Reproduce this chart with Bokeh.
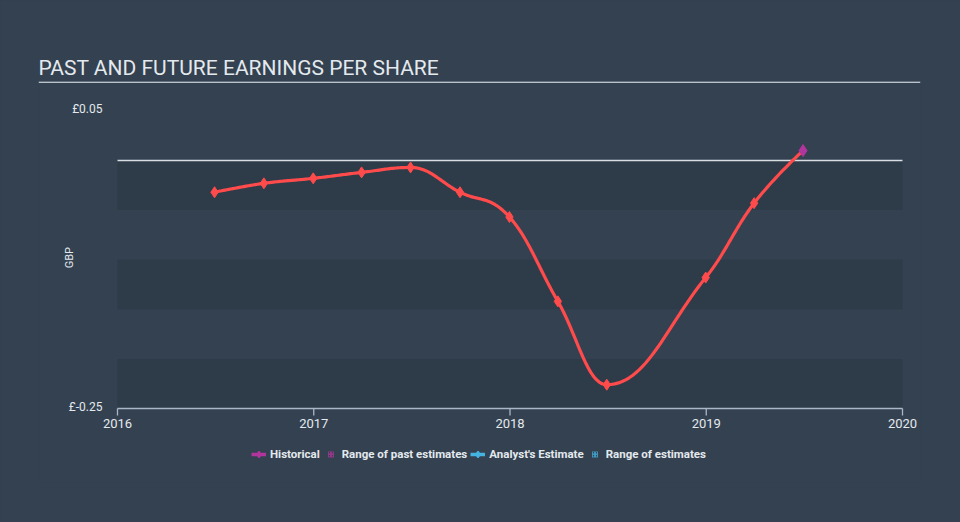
import numpy as np
from datetime import date
from bokeh.plotting import figure
from bokeh.models import Legend, LegendItem, ColumnDataSource, Range1d
from bokeh.embed import file_html
from bokeh.resources import INLINE
from bokeh.core.properties import value

# ---------------- data ----------------
dates = ["2016-06-30", "2016-09-30", "2016-12-31", "2017-03-31", "2017-06-30",
         "2017-09-30", "2017-12-31", "2018-03-31", "2018-06-30", "2018-12-31",
         "2019-03-31", "2019-06-30"]
eps = [-0.032, -0.023, -0.018, -0.012, -0.007, -0.032, -0.057, -0.142,
       -0.226, -0.118, -0.043, 0.010]
year_ticks = [2016, 2017, 2018, 2019, 2020]
year_labels = ["2016", "2017", "2018", "2019", "2020"]
y_tick_values = [0.05, -0.25]
band_edges = [0.0, -0.05, -0.10, -0.15, -0.20, -0.25]
title_text = "PAST AND FUTURE EARNINGS PER SHARE"
y_label = "GBP"
legend_labels = ["Historical", "Range of past estimates", "Analyst's Estimate", "Range of estimates"]

# ---------------- colours ----------------
BG = "#334150"
DARK = "#2e3b49"
RED = "#ff4b4b"
PURPLE = "#b0359c"
BLUE = "#45b3e0"
TEXT = "#e4e9ee"
AXIS = "#a9b8c6"
FONT = "Roboto"


def frac_year(s):
    d = date.fromisoformat(s)
    start = date(d.year, 1, 1)
    days = (date(d.year + 1, 1, 1) - start).days
    return d.year + (d - start).days / days


xs = np.array([frac_year(d) for d in dates])
ys = np.array(eps, dtype=float)


def spline_path(x, y, smoothing=1.5, n=30):
    """Highcharts-like spline through the points."""
    m = len(x)
    lc = [(x[i], y[i]) for i in range(m)]
    rc = [(x[i], y[i]) for i in range(m)]
    den = smoothing + 1
    for i in range(1, m - 1):
        lx = (smoothing * x[i] + x[i - 1]) / den
        ly = (smoothing * y[i] + y[i - 1]) / den
        rx = (smoothing * x[i] + x[i + 1]) / den
        ry = (smoothing * y[i] + y[i + 1]) / den
        if rx != lx:
            corr = (ry - ly) * (rx - x[i]) / (rx - lx) + y[i] - ry
            ly += corr
            ry += corr
        if ly > y[i - 1] and ly > y[i]:
            ly = max(y[i - 1], y[i]); ry = 2 * y[i] - ly
        elif ly < y[i - 1] and ly < y[i]:
            ly = min(y[i - 1], y[i]); ry = 2 * y[i] - ly
        if ry > y[i + 1] and ry > y[i]:
            ry = max(y[i + 1], y[i]); ly = 2 * y[i] - ry
        elif ry < y[i + 1] and ry < y[i]:
            ry = min(y[i + 1], y[i]); ly = 2 * y[i] - ry
        lc[i] = (lx, ly)
        rc[i] = (rx, ry)
    px, py = [x[0]], [y[0]]
    t = np.linspace(0, 1, n)[1:]
    for i in range(1, m):
        p0 = np.array([x[i - 1], y[i - 1]])
        c1 = np.array(rc[i - 1])
        c2 = np.array(lc[i])
        p3 = np.array([x[i], y[i]])
        for tt in t:
            b = ((1 - tt) ** 3) * p0 + 3 * ((1 - tt) ** 2) * tt * c1 + 3 * (1 - tt) * tt ** 2 * c2 + tt ** 3 * p3
            px.append(b[0]); py.append(b[1])
    return px, py


W, H = 960, 522
FL, FR, FT, FB = 38, 920, 81, 482          # frame edges (pixels)
px_per_year = (902 - 117) / 4.0
px_per_unit = 992.0
x_start = year_ticks[0] - (117 - FL) / px_per_year
x_end = year_ticks[-1] + (FR - 902) / px_per_year
y_end = (160 - FT) / px_per_unit
y_start = -(FB - 160) / px_per_unit

p = figure(width=W, height=H, output_backend="svg", toolbar_location=None,
           x_range=Range1d(x_start, x_end), y_range=Range1d(y_start, y_end),
           min_border_left=FL, min_border_right=W - FR, min_border_top=FT,
           min_border_bottom=H - FB, x_axis_location=None, y_axis_location=None,
           outline_line_color=None, background_fill_color=BG, border_fill_color=BG)
p.outline_line_alpha = 0
p.outline_line_width = 0
p.grid.visible = False
p.styles = {"background-color": BG}

# title
p.title.text = title_text
p.title.text_font = FONT
p.title.text_font_size = "21px"
p.title.text_font_style = "normal"
p.title.text_color = TEXT
p.title.align = "left"
p.title.standoff = 4

# title underline (top edge of frame)
yu = y_end - 0.6 / px_per_unit
p.segment(x0=[x_start], x1=[x_end], y0=[yu], y1=[yu], line_color="#b9c1c9", line_width=1.6)

# darker bands (every other band below zero)
tops = band_edges[:-1:2]
bots = band_edges[1::2]
p.quad(left=year_ticks[0], right=year_ticks[-1], top=tops, bottom=bots, fill_color=DARK, line_color=None)

# zero line
p.segment(x0=[year_ticks[0]], x1=[year_ticks[-1]], y0=[0], y1=[0], line_color="#d8dde2", line_width=1.3)

# x-axis line, ticks and labels
ybase = band_edges[-1]
p.segment(x0=[year_ticks[0]], x1=[year_ticks[-1]], y0=[ybase], y1=[ybase], line_color=AXIS, line_width=1.3)
p.segment(x0=year_ticks, x1=year_ticks, y0=[ybase] * len(year_ticks),
          y1=[ybase - 7 / px_per_unit] * len(year_ticks), line_color=AXIS, line_width=1.3)
p.text(x=year_ticks, y=[ybase] * len(year_ticks), text=year_labels, y_offset=15,
       text_align="center", text_baseline="middle", text_font=value(FONT),
       text_font_size="13px", text_color=TEXT)

# y labels
p.text(x=[year_ticks[0]] * len(y_tick_values), y=y_tick_values,
       text=[("£%.2f" % v) for v in y_tick_values], x_offset=-15, y_offset=-2,
       text_align="right", text_baseline="middle", text_font=value(FONT),
       text_font_size="12px", text_color=TEXT)
p.text(x=[year_ticks[0]], y=[-0.1], text=[y_label], x_offset=-48, y_offset=-2, angle=np.pi / 2,
       text_align="center", text_baseline="middle", text_font=value(FONT),
       text_font_size="11px", text_color=TEXT)

# curve
cx, cy = spline_path(xs, ys)
p.line(cx, cy, line_color=RED, line_width=3.2, line_join="round")
p.scatter(xs[:-1], ys[:-1], marker="diamond", size=11, fill_color=RED, line_color=RED)
p.scatter(xs[-1:], ys[-1:], marker="diamond", size=12, fill_color=PURPLE, line_color=PURPLE)

# legend proxy renderers (placed outside the visible range)
off_x = x_start - 10.0
off_y = y_start - 10.0


def proxy():
    return ColumnDataSource(dict(x=[off_x, off_x - 1], y=[off_y, off_y - 1]))


r_hl = p.line(x="x", y="y", source=proxy(), line_color=PURPLE, line_width=3.5)
r_hm = p.scatter(x="x", y="y", source=proxy(), marker="diamond", size=12,
                 fill_color=PURPLE, line_color=PURPLE, line_width=1.5)
r_hr = p.scatter(x="x", y="y", source=proxy(), marker="square", size=12,
                 fill_alpha=0, line_alpha=0, hatch_pattern="/", hatch_color=PURPLE,
                 hatch_scale=3, hatch_weight=1.3, hatch_alpha=0.8)
r_al = p.line(x="x", y="y", source=proxy(), line_color=BLUE, line_width=3.5)
r_am = p.scatter(x="x", y="y", source=proxy(), marker="diamond", size=12,
                 fill_color=BLUE, line_color=BLUE, line_width=1.5)
r_ar = p.scatter(x="x", y="y", source=proxy(), marker="square", size=12,
                 fill_alpha=0, line_alpha=0, hatch_pattern="/", hatch_color=BLUE,
                 hatch_scale=3, hatch_weight=1.3, hatch_alpha=0.8)

legend = Legend(items=[
    LegendItem(label=legend_labels[0], renderers=[r_hl, r_hm]),
    LegendItem(label=legend_labels[1], renderers=[r_hr]),
    LegendItem(label=legend_labels[2], renderers=[r_al, r_am]),
    LegendItem(label=legend_labels[3], renderers=[r_ar]),
], orientation="horizontal", location=(213, 20))
legend.background_fill_alpha = 0
legend.border_line_color = None
legend.label_text_font = FONT
legend.label_text_font_size = "11.5px"
legend.label_text_font_style = "bold"
legend.label_text_color = TEXT
legend.glyph_width = 15
legend.glyph_height = 16
legend.label_standoff = 4
legend.spacing = 3
legend.padding = 0
legend.margin = 0
legend.label_height = 14
p.add_layout(legend, "center")

open("out.html", "w").write(file_html(p, INLINE))
